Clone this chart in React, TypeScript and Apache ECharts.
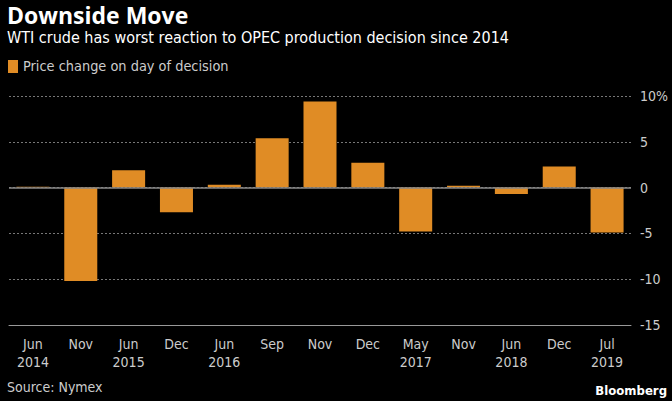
import React, { useEffect, useRef } from "react";
import * as echarts from "echarts";

const categories = [
  "Jun\n2014", "Nov", "Jun\n2015", "Dec", "Jun\n2016", "Sep", "Nov", "Dec",
  "May\n2017", "Nov", "Jun\n2018", "Dec", "Jul\n2019",
];
const priceChange = [0.1, -10.2, 1.9, -2.7, 0.3, 5.4, 9.4, 2.7, -4.8, 0.2, -0.7, 2.3, -4.9];
const yTicks = { min: -15, max: 10, interval: 5 };

const FONT = "'Liberation Sans Narrow', 'DejaVu Sans Condensed', 'Roboto Condensed', Roboto, sans-serif";
const BAR = "#e08c25";

export default function App() {
  const ref = useRef<HTMLDivElement>(null);
  useEffect(() => {
    if (!ref.current) return;
    const chart = echarts.init(ref.current, undefined, { renderer: "svg" });
    chart.setOption({
      animation: false,
      backgroundColor: "#000000",
      textStyle: { fontFamily: FONT },
      grid: { left: 9, right: 41, top: 96, bottom: 76 },
      graphic: [
        {
          type: "text", left: 7, top: 3,
          style: { text: "Downside Move", fill: "#ffffff", font: "bold 23px 'Open Sans', 'DejaVu Sans', sans-serif" },
        },
        {
          type: "text", left: 7, top: 29,
          style: { text: "WTI crude has worst reaction to OPEC production decision since 2014", fill: "#ffffff", font: `16px ${FONT}` },
        },
        { type: "rect", left: 8, top: 60, shape: { width: 10, height: 13 }, style: { fill: BAR } },
        {
          type: "text", left: 23, top: 59,
          style: { text: "Price change on day of decision", fill: "#cccccc", font: `14.4px ${FONT}` },
        },
        {
          type: "text", left: 7, top: 380,
          style: { text: "Source: Nymex", fill: "#cccccc", font: `14px ${FONT}` },
        },
        {
          type: "text", right: 5, top: 384,
          style: { text: "Bloomberg", fill: "#ffffff", font: "bold 13px 'Liberation Sans Narrow', 'DejaVu Sans Condensed', sans-serif" },
        },
      ],
      xAxis: {
        type: "category",
        data: categories,
        axisLine: { onZero: false, lineStyle: { color: "#999999", width: 1 } },
        axisTick: { alignWithLabel: true, length: 5, lineStyle: { color: "#999999" } },
        axisLabel: { color: "#cccccc", fontSize: 14, fontFamily: FONT, lineHeight: 18, margin: 10 },
      },
      yAxis: {
        type: "value",
        position: "right",
        min: yTicks.min,
        max: yTicks.max,
        interval: yTicks.interval,
        axisLine: { show: false },
        axisTick: { show: false },
        axisLabel: {
          color: "#cccccc", fontSize: 14, fontFamily: FONT, margin: 9,
          formatter: (v: number) => (v === yTicks.max ? `${v}%` : `${v}`),
        },
        splitLine: {
          show: true,
          lineStyle: { color: "#777777", type: [2, 2], width: 1 },
        },
      },
      series: [
        {
          type: "bar",
          data: priceChange,
          barWidth: "69%",
          itemStyle: { color: BAR },
          markLine: {
            silent: true,
            symbol: "none",
            label: { show: false },
            lineStyle: { color: "#888888", type: "solid", width: 1.5 },
            data: [{ yAxis: 0 }],
          },
          z: 3,
        },
      ],
    });
    return () => chart.dispose();
  }, []);
  return <div ref={ref} style={{ width: 672, height: 401, position: "absolute", left: 0, top: 0 }} />;
}
